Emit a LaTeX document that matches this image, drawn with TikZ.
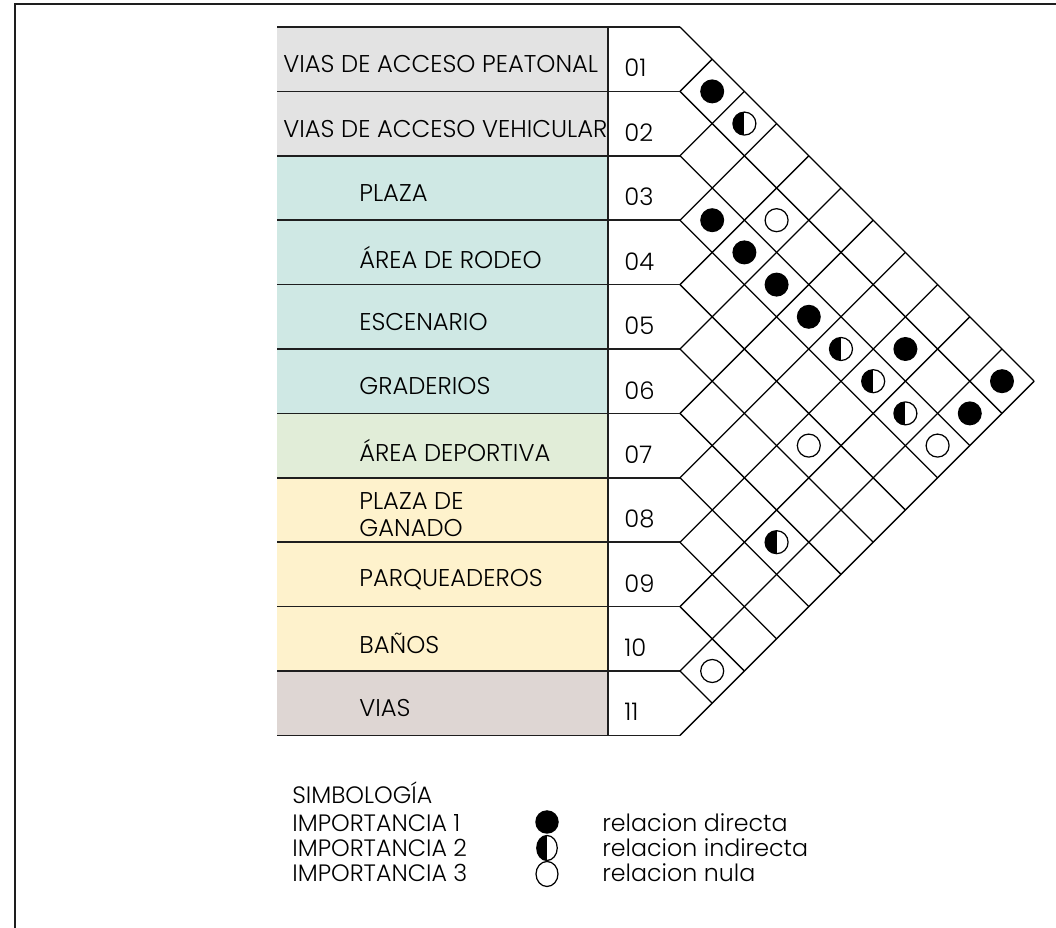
\documentclass[tikz,border=0pt]{standalone}
\usepackage{fontspec}
\setmainfont{Poppins Light}
\usepackage{tikz}
\usetikzlibrary{positioning,calc,shapes.geometric}
\definecolor{gris}{RGB}{227,227,227}
\definecolor{aqua}{RGB}{207,232,228}
\definecolor{verde}{RGB}{225,237,216}
\definecolor{crema}{RGB}{254,242,204}
\definecolor{malva}{RGB}{222,214,211}
\definecolor{tinta}{RGB}{30,30,30}
\tikzset{
  rowtext/.style={inner sep=0pt, align=left, font=\fontsize{13.8}{15.4}\selectfont},
  legtext/.style={inner sep=0pt, anchor=west, font=\fontsize{13.5}{15}\selectfont},
  tline/.style={draw=tinta, line width=0.9pt},
  gridline/.style={draw=black, line width=0.75pt},
  frame/.style={draw=tinta, line width=0.9pt},
  rfull/.style={circle, fill=black, inner sep=0pt, minimum size=0.48cm},
  rnone/.style={circle, draw=black, line width=0.7pt, fill=white, inner sep=0pt, minimum size=0.46cm},
  rhalf/.style={rnone, path picture={\fill[black] (path picture bounding box.north west) rectangle (path picture bounding box.south);}}
}
\begin{document}
\begin{tikzpicture}[x=0.02cm,y=-0.02cm]
\useasboundingbox (0,0) rectangle (1056,928);
\draw[frame] (15,928) -- (15,4) -- (1056,4);

\foreach \n/\txt/\col/\tx [count=\k] in {01/VIAS DE ACCESO PEATONAL/gris/283, 02/VIAS DE ACCESO VEHICULAR/gris/283, 03/PLAZA/aqua/359, 04/ÁREA DE RODEO/aqua/359, 05/ESCENARIO/aqua/359, 06/GRADERIOS/aqua/359, 07/ÁREA DEPORTIVA/verde/359, 08/{PLAZA DE\\GANADO}/crema/359, 09/PARQUEADEROS/crema/359, 10/BAÑOS/crema/359, 11/VIAS/malva/359}{
  \pgfmathsetmacro{\ya}{27+64.4*(\k-1)}
  \pgfmathsetmacro{\yb}{27+64.4*\k}
  \fill[\col] (277,\ya) rectangle (608,\yb);
  \node[rowtext, anchor=west] (l\n) at (\tx,{(\ya+\yb)/2+5}) {\txt};
  \node[rowtext, anchor=west] (n\n) at (624,{(\ya+\yb)/2+9}) {\n};
}

\foreach \k in {0,...,11}{
  \pgfmathsetmacro{\y}{27+64.4*\k}
  \pgfmathsetmacro{\d}{(735-\y)/2}
  \pgfmathsetmacro{\u}{(\y-27)/2}
  \coordinate (b\k) at (680,\y);
  \draw[tline] (277,\y) -- (b\k);
  \draw[gridline] (b\k) -- ++(\d,\d);
  \draw[gridline] (b\k) -- ++(\u,-\u);
}
\draw[tline] (608,27) -- (608,735);

\foreach \i/\j/\s in {1/2/rfull, 1/3/rhalf, 3/4/rfull, 2/5/rnone, 3/5/rfull, 3/6/rfull, 3/7/rfull, 3/8/rhalf, 2/9/rfull, 3/9/rhalf, 1/11/rfull, 3/10/rhalf, 2/11/rfull, 5/9/rnone, 3/11/rnone, 7/10/rhalf, 10/11/rnone}{
  \node[\s] (s\i-\j) at ({680+32.2*(\j-\i)},{27+32.2*(\i+\j-1)}) {};
}

\node[legtext] (simb) at (292,793) {SIMBOLOGÍA};
\node[legtext] (imp1) at (292,823) {IMPORTANCIA 1};
\node[legtext] (imp2) at (292,848) {IMPORTANCIA 2};
\node[legtext] (imp3) at (292,873) {IMPORTANCIA 3};
\node[rfull, minimum size=0.47cm] (k1) at (547,822) {};
\node[rhalf, ellipse, minimum width=0.41cm, minimum height=0.5cm] (k2) at (547,848) {};
\node[rnone, ellipse, minimum width=0.44cm, minimum height=0.5cm] (k3) at (547,874) {};
\node[legtext] (rel1) at (602,823) {relacion directa};
\node[legtext] (rel2) at (602,848) {relacion indirecta};
\node[legtext] (rel3) at (602,873) {relacion nula};
\end{tikzpicture}
\end{document}
